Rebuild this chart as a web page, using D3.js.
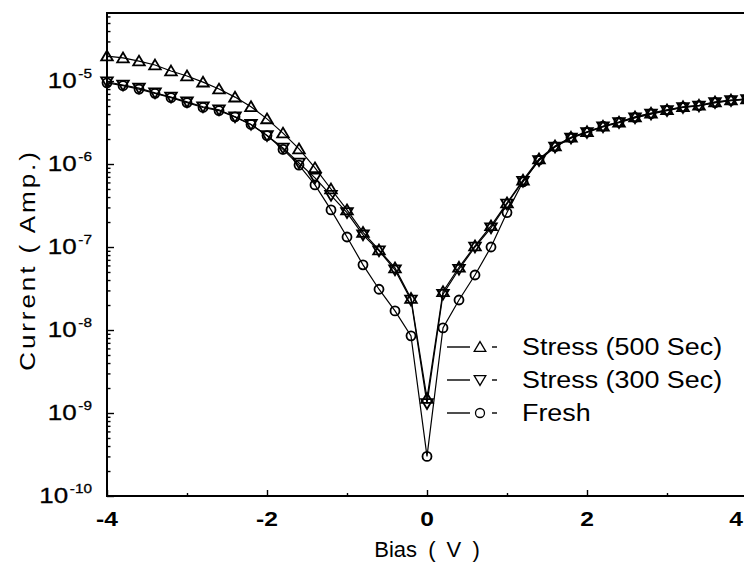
<!DOCTYPE html>
<html>
<head>
<meta charset="utf-8">
<script src="https://cdn.jsdelivr.net/npm/d3@7"></script>
<style>
  html, body { margin: 0; padding: 0; background: #fff; }
  svg { display: block; }
  text { font-family: "Liberation Sans", Arial, sans-serif; fill: #000; }
</style>
</head>
<body>
<script>
// Bias sweep (V)
const bias = [-4.0, -3.8, -3.6, -3.4, -3.2, -3.0, -2.8, -2.6, -2.4, -2.2, -2.0,
              -1.8, -1.6, -1.4, -1.2, -1.0, -0.8, -0.6, -0.4, -0.2, 0.0,
               0.2,  0.4,  0.6,  0.8,  1.0,  1.2,  1.4,  1.6,  1.8,  2.0,
               2.2,  2.4,  2.6,  2.8,  3.0,  3.2,  3.4,  3.6,  3.8,  4.0];

// Leakage current (A) after 500 s stress
const stress500 = [2.0e-5, 1.9e-5, 1.74e-5, 1.56e-5, 1.32e-5, 1.15e-5, 9.7e-6, 8.0e-6, 6.4e-6, 4.9e-6, 3.5e-6,
                   2.36e-6, 1.52e-6, 9.0e-7, 5.0e-7, 2.8e-7, 1.5e-7, 9.2e-8, 5.6e-8, 2.4e-8, 1.5e-9,
                   2.9e-8, 5.7e-8, 1.03e-7, 1.8e-7, 3.4e-7, 6.4e-7, 1.15e-6, 1.65e-6, 2.1e-6, 2.45e-6,
                   2.85e-6, 3.2e-6, 3.7e-6, 4.1e-6, 4.5e-6, 4.9e-6, 5.1e-6, 5.6e-6, 5.9e-6, 6.1e-6];

// Leakage current (A) after 300 s stress
const stress300 = [9.8e-6, 8.95e-6, 8.2e-6, 7.2e-6, 6.4e-6, 5.6e-6, 4.9e-6, 4.5e-6, 3.7e-6, 3.0e-6, 2.2e-6,
                   1.56e-6, 1.03e-6, 6.8e-7, 4.2e-7, 2.6e-7, 1.4e-7, 9.0e-8, 5.3e-8, 2.3e-8, 1.3e-9,
                   2.7e-8, 5.4e-8, 1.0e-7, 1.7e-7, 3.3e-7, 6.2e-7, 1.1e-6, 1.6e-6, 2.05e-6, 2.4e-6,
                   2.8e-6, 3.15e-6, 3.6e-6, 4.0e-6, 4.4e-6, 4.8e-6, 5.0e-6, 5.5e-6, 5.8e-6, 6.0e-6];

// Leakage current (A) of the fresh device
const fresh = [9.5e-6, 8.8e-6, 8.0e-6, 7.1e-6, 6.3e-6, 5.5e-6, 4.8e-6, 4.4e-6, 3.7e-6, 3.0e-6, 2.2e-6,
               1.5e-6, 9.7e-7, 5.6e-7, 2.8e-7, 1.32e-7, 6.1e-8, 3.1e-8, 1.7e-8, 8.5e-9, 3.0e-10,
               1.06e-8, 2.3e-8, 4.6e-8, 1.0e-7, 2.6e-7, 6.1e-7, 1.12e-6, 1.62e-6, 2.08e-6, 2.42e-6,
               2.85e-6, 3.2e-6, 3.65e-6, 4.05e-6, 4.45e-6, 4.85e-6, 5.05e-6, 5.5e-6, 5.85e-6, 6.05e-6];

const xMajorTicks = [-4, -2, 0, 2, 4];
const xMinorTicks = [-3, -1, 1, 3];
const yExponents = [-10, -9, -8, -7, -6, -5];

const seriesNames = ["Stress (500 Sec)", "Stress (300 Sec)", "Fresh"];
const seriesValues = [stress500, stress300, fresh];
const seriesSymbols = ["up", "down", "circle"];

const W = 744, H = 562;
const svg = d3.select("body").append("svg").attr("width", W).attr("height", H);

const x = d3.scaleLinear().domain([-4, 4]).range([107, 747]);
const y = d3.scaleLog().domain([1e-10, 6.6e-5]).range([496, 13]);

// text is set slightly wide, as in the original figure
const STRETCH = 1.18;

// marker shapes
function markerPath(kind) {
  if (kind === "up") return "M0,-5.4L5.8,4.4L-5.8,4.4Z";
  if (kind === "down") return "M0,5.4L5.8,-4.4L-5.8,-4.4Z";
  return d3.symbol().type(d3.symbolCircle).size(Math.PI * 4.5 * 4.5)();
}

// frame
const frame = svg.append("g").attr("stroke", "#000").attr("fill", "none");
frame.append("line").attr("x1", x(-4)).attr("x2", x(-4)).attr("y1", y.range()[1] - 1).attr("y2", y.range()[0] + 1).attr("stroke-width", 2);
frame.append("line").attr("x1", x(-4) - 1).attr("x2", x(4) + 1).attr("y1", y.range()[0]).attr("y2", y.range()[0]).attr("stroke-width", 2);
frame.append("line").attr("x1", x(-4) - 1).attr("x2", x(4) + 1).attr("y1", y.range()[1]).attr("y2", y.range()[1]).attr("stroke-width", 2.2);
frame.append("line").attr("x1", x(4)).attr("x2", x(4)).attr("y1", y.range()[1]).attr("y2", y.range()[0]).attr("stroke-width", 2);

// y ticks (inward)
const yMajorVals = yExponents.map(e => Math.pow(10, e));
const yMinorVals = [];
yExponents.forEach(e => { for (let m = 2; m <= 9; m++) { const v = m * Math.pow(10, e); if (v <= y.domain()[1]) yMinorVals.push(v); } });

function styleAxis(g) {
  g.select(".domain").remove();
  g.selectAll(".tick line").attr("stroke", "#000").attr("stroke-width", 1.4);
  g.selectAll(".tick text").remove();
}
svg.append("g").attr("transform", `translate(${x(-4)},0)`)
  .call(d3.axisRight(y).tickValues(yMajorVals).tickSize(7).tickFormat("")).call(styleAxis);
svg.append("g").attr("transform", `translate(${x(-4)},0)`)
  .call(d3.axisRight(y).tickValues(yMinorVals).tickSize(3.5).tickFormat("")).call(styleAxis);

// x ticks (inward)
svg.append("g").attr("transform", `translate(0,${y.range()[0]})`)
  .call(d3.axisTop(x).tickValues(xMajorTicks).tickSize(6).tickFormat("")).call(styleAxis);
svg.append("g").attr("transform", `translate(0,${y.range()[0]})`)
  .call(d3.axisTop(x).tickValues(xMinorTicks).tickSize(3).tickFormat("")).call(styleAxis);

// y tick labels: 10^n
const yLab = svg.append("g");
yMajorVals.forEach((v, i) => {
  const t = yLab.append("text")
    .attr("transform", `translate(92,${y(v) + 7}) scale(${STRETCH},1)`)
    .attr("text-anchor", "end").attr("font-size", 22)
    .attr("stroke", "#000").attr("stroke-width", 0.3);
  t.append("tspan").text("10");
  t.append("tspan").attr("dy", -10).attr("dx", 1.5).attr("font-size", 13).text(String(yExponents[i]));
});

// x tick labels (the last one kept inside the page)
svg.append("g").selectAll("text").data(xMajorTicks).join("text")
  .attr("transform", d => `translate(${Math.min(x(d), W - 8)},526) scale(${STRETCH + 0.05},1)`)
  .attr("text-anchor", "middle").attr("font-size", 20).attr("font-weight", "bold")
  .text(d => String(d));

// axis titles
svg.append("text").attr("x", 427).attr("y", 557).attr("text-anchor", "middle")
  .attr("font-size", 22).attr("word-spacing", 5).text("Bias ( V )");
svg.append("text").attr("transform", `translate(35,260) rotate(-90) scale(${STRETCH},1)`).attr("text-anchor", "middle")
  .attr("font-size", 22).attr("letter-spacing", 2.5).text("Current ( Amp.)");

// curves
const line = d3.line().x((d, i) => x(bias[i])).y(d => y(d));
const plot = svg.append("g");
seriesValues.forEach((vals) => {
  plot.append("path").datum(vals).attr("d", line)
    .attr("fill", "none").attr("stroke", "#000").attr("stroke-width", 1.2);
});
seriesValues.forEach((vals, k) => {
  plot.append("g").selectAll("path").data(vals).join("path")
    .attr("transform", (d, i) => `translate(${x(bias[i])},${y(d)})`)
    .attr("d", markerPath(seriesSymbols[k]))
    .attr("fill", "none").attr("stroke", "#000").attr("stroke-width", 1.8);
});

// legend
const legendRows = [347, 380, 413];
const legend = svg.append("g");
seriesNames.forEach((name, k) => {
  const yy = legendRows[k];
  legend.append("line").attr("x1", 447).attr("x2", 470).attr("y1", yy).attr("y2", yy)
    .attr("stroke", "#000").attr("stroke-width", 1.4);
  legend.append("line").attr("x1", 492).attr("x2", 497).attr("y1", yy).attr("y2", yy)
    .attr("stroke", "#000").attr("stroke-width", 1.4);
  legend.append("path").attr("transform", `translate(480,${yy})`).attr("d", markerPath(seriesSymbols[k]))
    .attr("fill", "none").attr("stroke", "#000").attr("stroke-width", 1.3);
  legend.append("text").attr("transform", `translate(522,${yy + 8}) scale(1.12,1)`)
    .attr("font-size", 24).text(name);
});
</script>
</body>
</html>
